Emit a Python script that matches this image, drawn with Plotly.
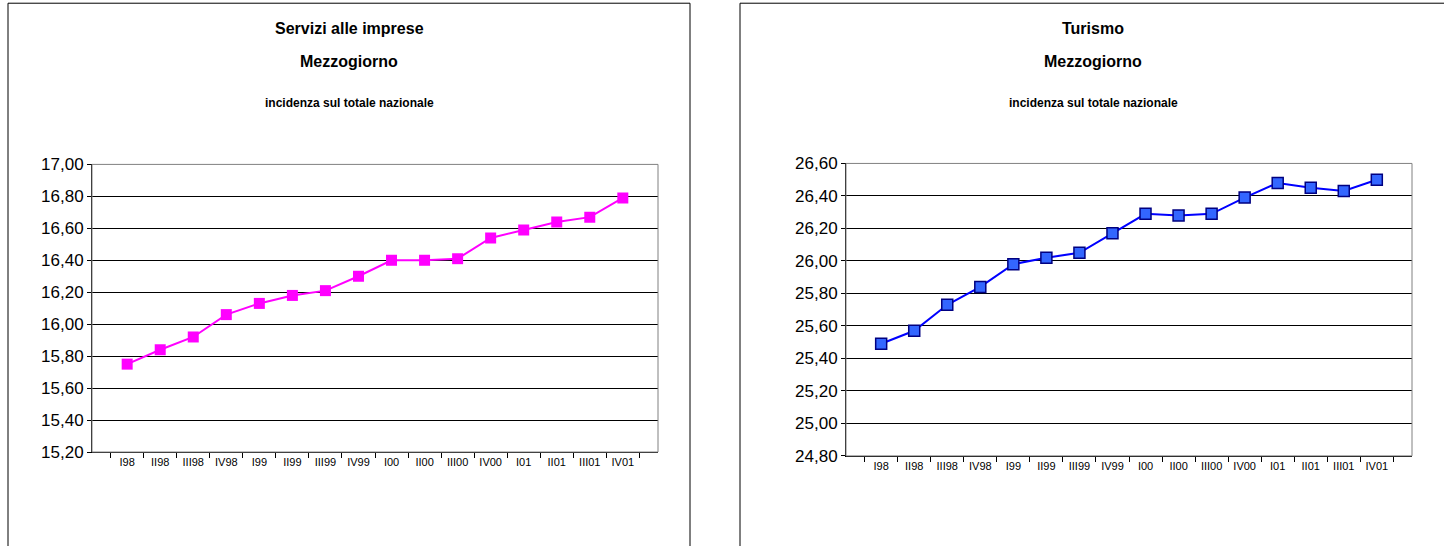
import plotly.graph_objects as go

quarters = ["I98", "II98", "III98", "IV98", "I99", "II99", "III99", "IV99",
            "I00", "II00", "III00", "IV00", "I01", "II01", "III01", "IV01"]
servizi = [15.75, 15.84, 15.92, 16.06, 16.13, 16.18, 16.21, 16.30,
           16.40, 16.40, 16.41, 16.54, 16.59, 16.64, 16.67, 16.79]
turismo = [25.49, 25.57, 25.73, 25.84, 25.98, 26.02, 26.05, 26.17,
           26.29, 26.28, 26.29, 26.39, 26.48, 26.45, 26.43, 26.50]

W, H = 1444, 546

fig = go.Figure()
fig.add_trace(go.Scatter(x=quarters, y=servizi, mode="lines+markers",
                         line=dict(color="#FF00FF", width=2),
                         marker=dict(symbol="square", size=11, color="#FF00FF"),
                         xaxis="x", yaxis="y"))
fig.add_trace(go.Scatter(x=quarters, y=turismo, mode="lines+markers",
                         line=dict(color="#0000FF", width=2),
                         marker=dict(symbol="square", size=11, color="#3366FF",
                                     line=dict(color="#000080", width=1.5)),
                         xaxis="x2", yaxis="y2"))


def xax(lo, hi):
    return dict(domain=[lo / W, hi / W], type="category", tickson="boundaries",
                ticks="outside", ticklen=5, tickcolor="black", showline=True,
                linecolor="black", mirror=False, showgrid=False,
                tickfont=dict(family="Arial", size=11, color="black"))


def yax(top, bottom, rng, anchor):
    return dict(domain=[1 - bottom / H, 1 - top / H], range=rng, dtick=0.2,
                tickformat=".2f", ticks="outside",
                ticklen=4, tickcolor="black", showline=True, linecolor="black",
                showgrid=True, gridcolor="black", gridwidth=1, zeroline=False,
                anchor=anchor, tickfont=dict(family="Arial", size=17, color="black"))


fig.update_layout(
    width=W, height=H, margin=dict(l=0, r=0, t=0, b=0),
    paper_bgcolor="white", plot_bgcolor="white", showlegend=False,
    separators=",.",
    xaxis=dict(xax(92, 658), anchor="y"),
    yaxis=yax(161, 459, [15.2, 17.0], "x"),
    xaxis2=dict(xax(846, 1412), anchor="y2"),
    yaxis2=yax(160, 463, [24.8, 26.6], "x2"),
    shapes=[
        dict(type="rect", xref="paper", yref="paper", x0=8 / W, x1=690 / W,
             y0=-0.02, y1=1 + 6 / H, line=dict(color="black", width=1)),
        dict(type="rect", xref="paper", yref="paper", x0=740 / W, x1=1.01,
             y0=-0.02, y1=1 + 6 / H, line=dict(color="black", width=1)),
        dict(type="rect", xref="paper", yref="paper", x0=92 / W, x1=658 / W,
             y0=1 - 459 / H, y1=1 - 161 / H, line=dict(color="gray", width=1)),
        dict(type="rect", xref="paper", yref="paper", x0=846 / W, x1=1412 / W,
             y0=1 - 463 / H, y1=1 - 160 / H, line=dict(color="gray", width=1)),
    ],
)

titles = [
    (349, "Servizi alle imprese"), (1093, "Turismo"),
]
for cx, name in titles:
    for yy, txt, sz in [(20, name, 16), (54, "Mezzogiorno", 16),
                        (97, "incidenza sul totale nazionale", 12)]:
        fig.add_annotation(x=cx / W, y=1 - yy / H, xref="paper", yref="paper",
                           xanchor="center", yanchor="middle",
                           text="<b>" + txt + "</b>", showarrow=False,
                           font=dict(family="Arial", size=sz, color="black"))

fig.write_html("out.html", config={"displayModeBar": False},
               post_script="document.body.style.margin='0';")
